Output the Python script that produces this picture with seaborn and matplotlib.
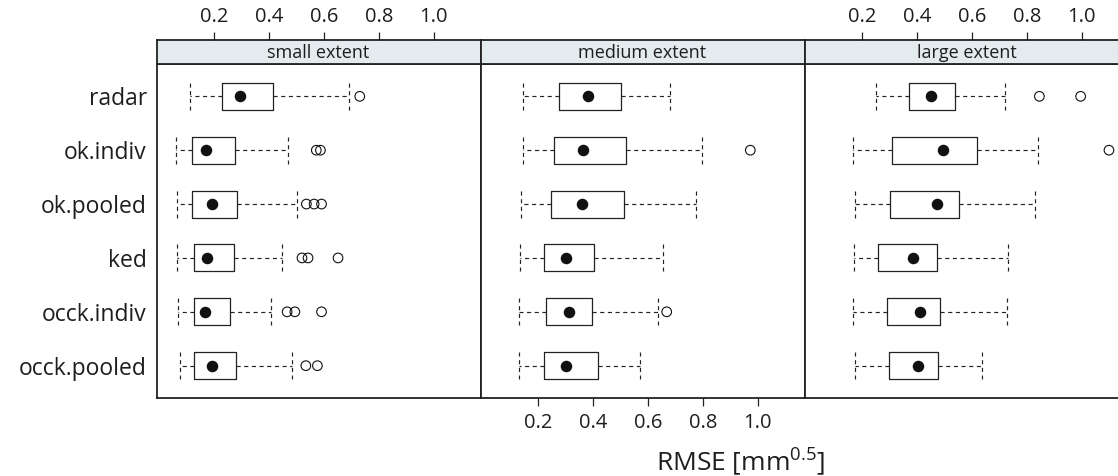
import numpy as np
import pandas as pd
import matplotlib
matplotlib.use("Agg")
import matplotlib.pyplot as plt
import seaborn as sns

# ---------------- data ----------------
methods = ["radar", "ok.indiv", "ok.pooled", "ked", "occk.indiv", "occk.pooled"]
extents = ["small extent", "medium extent", "large extent"]

small_lo = [0.113, 0.064, 0.068, 0.068, 0.070, 0.078]
small_q1 = [0.229, 0.122, 0.122, 0.128, 0.127, 0.128]
small_med = [0.296, 0.173, 0.192, 0.175, 0.170, 0.194]
small_q3 = [0.416, 0.278, 0.283, 0.272, 0.259, 0.281]
small_hi = [0.693, 0.469, 0.502, 0.450, 0.407, 0.486]
small_out = [[0.731], [0.573, 0.588], [0.537, 0.565, 0.592],
             [0.521, 0.543, 0.652], [0.467, 0.495, 0.592], [0.535, 0.577]]

medium_lo = [0.145, 0.145, 0.139, 0.137, 0.132, 0.131]
medium_q1 = [0.278, 0.261, 0.248, 0.222, 0.230, 0.223]
medium_med = [0.384, 0.365, 0.361, 0.303, 0.315, 0.303]
medium_q3 = [0.503, 0.522, 0.515, 0.406, 0.396, 0.419]
medium_hi = [0.681, 0.798, 0.777, 0.655, 0.636, 0.572]
medium_out = [[], [0.973], [], [], [0.669], []]

large_lo = [0.251, 0.170, 0.176, 0.173, 0.170, 0.176]
large_q1 = [0.372, 0.310, 0.304, 0.258, 0.291, 0.299]
large_med = [0.451, 0.496, 0.474, 0.385, 0.412, 0.406]
large_q3 = [0.539, 0.618, 0.555, 0.475, 0.485, 0.477]
large_hi = [0.721, 0.840, 0.830, 0.733, 0.730, 0.639]
large_out = [[0.846, 0.996], [1.099], [], [], [], []]

x_ticks = [0.2, 0.4, 0.6, 0.8, 1.0]
x_tick_labels = ["0.2", "0.4", "0.6", "0.8", "1.0"]

panels = [
    (small_lo, small_q1, small_med, small_q3, small_hi, small_out),
    (medium_lo, medium_q1, medium_med, medium_q3, medium_hi, medium_out),
    (large_lo, large_q1, large_med, large_q3, large_hi, large_out),
]

# ---------------- style ----------------
sns.set_style("white")
plt.rcParams["font.family"] = ["Open Sans", "DejaVu Sans"]
plt.rcParams["mathtext.fontset"] = "custom"
plt.rcParams["mathtext.rm"] = "Open Sans"
plt.rcParams["mathtext.it"] = "Open Sans"
plt.rcParams["mathtext.bf"] = "Open Sans"

W, H = 1118, 476
fig = plt.figure(figsize=(W / 100, H / 100), dpi=100)
fig.patch.set_facecolor("white")

panel_left = [156.5, 480.5, 804.5]
panel_w = 324
panel_top, panel_bot = 64, 398
strip_top = 40
xlim = (-0.008, 1.170)
edge = "#222222"
txt = "#1e1e1e"
strip_col = "#E3EBEF"

for i, (lo, q1, med, q3, hi, out) in enumerate(panels):
    L = panel_left[i]
    ax = fig.add_axes([L / W, (H - panel_bot) / H, panel_w / W, (panel_bot - panel_top) / H])
    sax = fig.add_axes([L / W, (H - panel_top) / H, panel_w / W, (panel_top - strip_top) / H])

    stats = []
    for k in range(len(methods)):
        stats.append(dict(whislo=lo[k], q1=q1[k], med=med[k], q3=q3[k],
                          whishi=hi[k], fliers=[]))
    ax.bxp(stats, positions=list(range(len(methods))), orientation="horizontal",
           widths=0.5, capwidths=0.5, showfliers=False, manage_ticks=False,
           boxprops=dict(color=edge, linewidth=0.9),
           whiskerprops=dict(color=edge, linewidth=0.85, linestyle=(0, (3.5, 3))),
           capprops=dict(color=edge, linewidth=0.85, linestyle=(0, (3.5, 3))),
           medianprops=dict(linewidth=0))

    med_df = pd.DataFrame({"method": methods, "value": med})
    sns.stripplot(data=med_df, x="value", y="method", order=methods, orient="h",
                  jitter=False, color="#111111", size=8.3, linewidth=0, ax=ax, zorder=5)

    out_vals, out_pos = [], []
    for k, vals in enumerate(out):
        for v in vals:
            out_vals.append(v)
            out_pos.append(k)
    if out_vals:
        out_df = pd.DataFrame({"value": out_vals, "pos": out_pos})
        n0 = len(ax.collections)
        sns.scatterplot(data=out_df, x="value", y="pos", marker="o", s=48,
                        color="white", edgecolor="#111111", linewidth=0.8,
                        ax=ax, zorder=6, legend=False)
        for c in ax.collections[n0:]:
            c.set_facecolor("none")

    ax.set_xlim(*xlim)
    ax.set_ylim(len(methods) - 0.4, -0.6)
    ax.set_xlabel("")
    ax.set_ylabel("")
    ax.set_facecolor("white")
    for s in ax.spines.values():
        s.set_visible(True)
        s.set_color(edge)
        s.set_linewidth(1.3)

    ax.set_yticks(range(len(methods)))
    if i == 0:
        ax.set_yticklabels(methods, fontsize=16.5, color=txt)
        ax.tick_params(axis="y", length=0, pad=7)
    else:
        ax.set_yticklabels([])
        ax.tick_params(axis="y", length=0)

    ax.set_xticks(x_ticks)
    if i == 1:
        ax.set_xticklabels(x_tick_labels, fontsize=14.5, color=txt)
        ax.tick_params(axis="x", bottom=True, top=False, length=6, width=0.9,
                       direction="out", pad=4.5, color=edge)
    else:
        ax.set_xticklabels([])
        ax.tick_params(axis="x", bottom=False, top=False, length=0)

    # strip
    sax.set_xlim(*xlim)
    sax.set_ylim(0, 1)
    sax.set_facecolor(strip_col)
    sax.set_yticks([])
    for s in sax.spines.values():
        s.set_visible(True)
        s.set_color(edge)
        s.set_linewidth(1.3)
    sax.text(0.5, 0.45, extents[i], transform=sax.transAxes, ha="center",
             va="center", fontsize=13, color=txt)
    sax.set_xticks(x_ticks)
    if i != 1:
        sax.xaxis.tick_top()
        sax.set_xticklabels(x_tick_labels, fontsize=14.5, color=txt)
        sax.tick_params(axis="x", top=True, bottom=False, labeltop=True,
                        labelbottom=False, length=6, width=0.9, direction="out",
                        pad=3.5, color=edge)
    else:
        sax.tick_params(axis="x", top=False, bottom=False, labeltop=False,
                        labelbottom=False, length=0)

fig.text(740 / W, (H - 462) / H, r"RMSE [mm$^{0.5}$]", ha="center", va="center",
         fontsize=19, color=txt)

fig.savefig("out.png", dpi=100, facecolor="white")
